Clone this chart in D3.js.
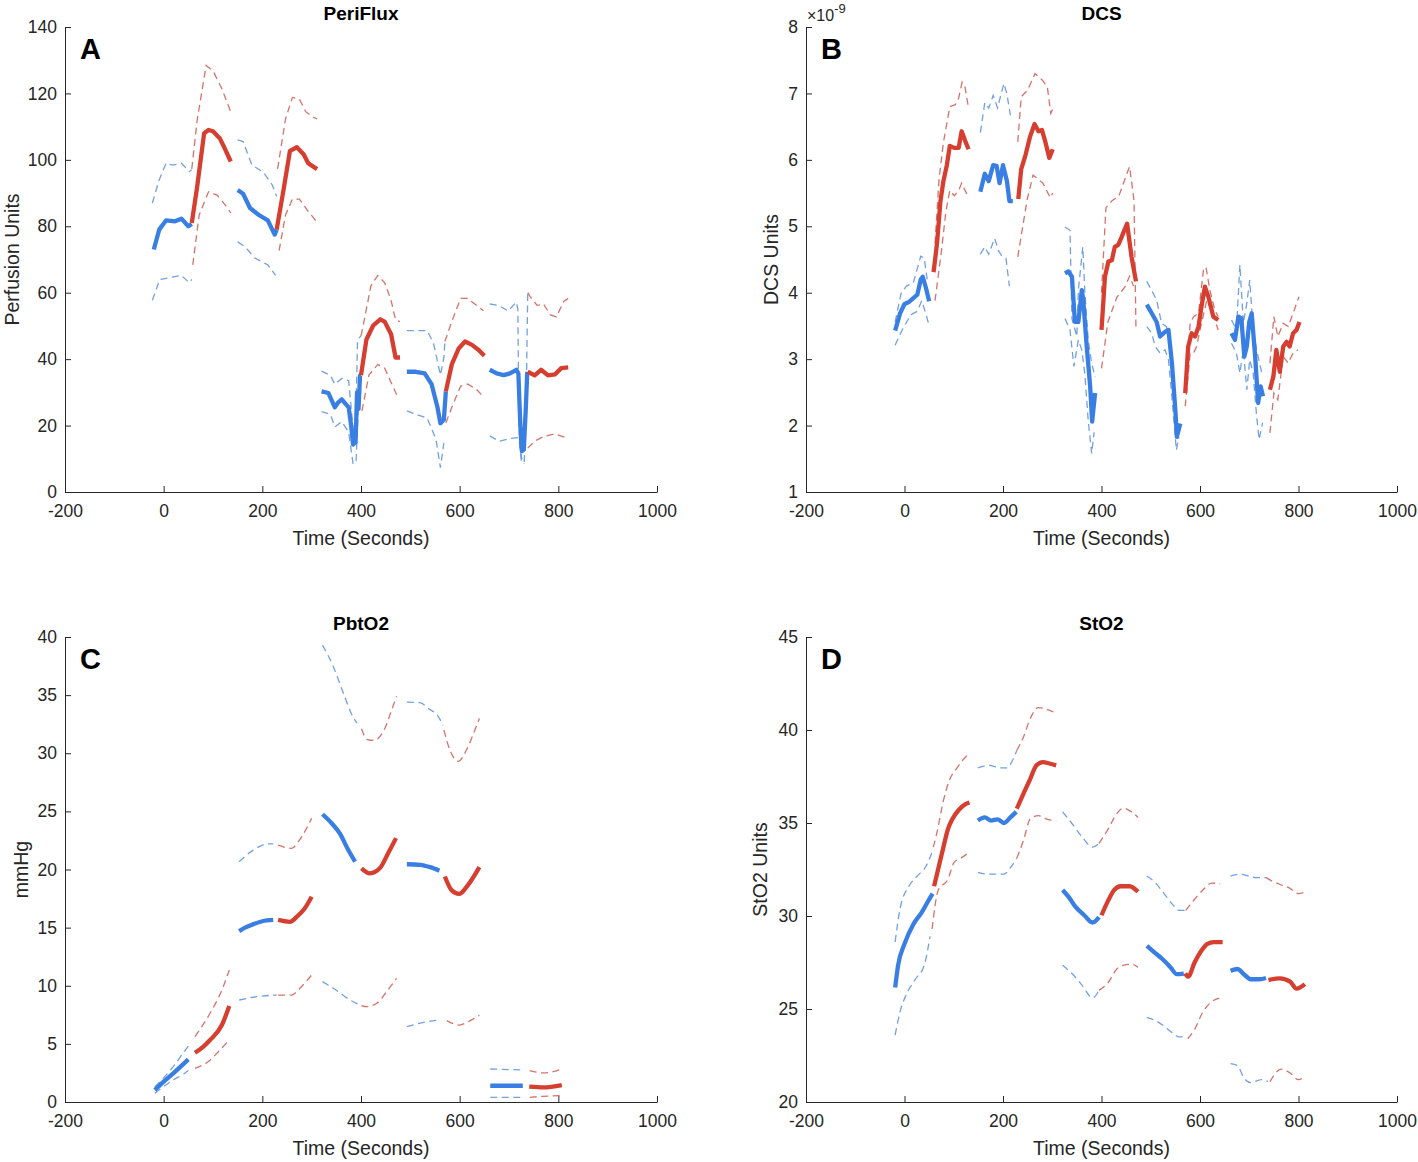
<!DOCTYPE html>
<html><head><meta charset="utf-8">
<script src="https://cdn.jsdelivr.net/npm/d3@7/dist/d3.min.js"></script>
<style>
body{margin:0;background:#fff}
svg text{font-family:"Liberation Sans",Arial,Helvetica,sans-serif}
</style>
</head><body>
<svg id="chart" width="1418" height="1162"></svg>
<script>
// ---------- shared axis data ----------
const xTicks = [-200, 0, 200, 400, 600, 800, 1000];
const periTicks = [0, 20, 40, 60, 80, 100, 120, 140];
const dcsTicks = [1, 2, 3, 4, 5, 6, 7, 8];          // in units of 1e-9
const pbtTicks = [0, 5, 10, 15, 20, 25, 30, 35, 40];
const stoTicks = [20, 25, 30, 35, 40, 45];

// ---------- PeriFlux (segments of [time, value]) ----------
const periBlueMean = [
 [[-20,73],[-9,79],[5,81.8],[23,81.5],[36,82.3],[50,80],[57,80.7]],
 [[150,90.9],[161,89.8],[175,85.5],[193,83.4],[211,81.8],[225,77.5],[229,79]],
 [[320,30.3],[334,29.8],[347,25.5],[354,27],[361,27.9],[375,25.5],[380,20],[384,14.3],[389,15],[392,30],[395,25],[398,35],[400,35]],
 [[493,36.2],[511,36.2],[529,35.7],[543,32.5],[555,25.5],[561,20.7],[568,21.8],[572,30.3]],
 [[661,36.8],[675,35.7],[689,35.2],[702,35.7],[715,36.8],[719,35.7],[723,20],[726,12.3],[730,12.7],[734,25],[737,36.2]]
];
const periRedMean = [
 [[57,81],[68,92],[82,108],[91,109],[100,108.6],[114,106.4],[123,103.7],[136,99.5]],
 [[229,79],[243,91],[256,102.7],[270,103.8],[284,101.6],[293,99],[311,97.2]],
 [[400,35.2],[411,45.9],[425,50.2],[439,52],[448,51.3],[461,47.5],[470,40.5],[479,40.5]],
 [[572,30.3],[584,38.4],[598,43.2],[611,45.3],[625,44.3],[639,42.7],[650,41]],
 [[738,36.2],[752,35.1],[765,36.8],[779,35.1],[793,35.4],[806,37.3],[820,37.5]]
];
const periBlueUpper = [
 [[-23,87],[-9,94],[5,99],[18,98.4],[36,99],[52,96.5],[57,97]],
 [[150,106],[161,105.5],[179,98.4],[202,96.3],[220,92.5],[229,89]],
 [[320,36.4],[338,35.1],[347,32.4],[361,34.2],[375,33.5],[384,19],[389,17.9],[393,45.9],[400,47]],
 [[493,48.6],[511,48.6],[534,48.6],[547,44.8],[561,35.2],[568,40.5],[570,45]],
 [[661,56.6],[680,56.1],[698,54.5],[715,57.2],[718,55],[720,20],[725,9],[731,9],[735,30],[738,60]]
];
const periRedUpper = [
 [[57,97.3],[68,112],[86,128.4],[100,126.8],[118,121.4],[136,114.5]],
 [[231,97.3],[247,112.3],[261,118.8],[275,118.3],[288,114.5],[302,112.9],[311,112.3]],
 [[400,47],[406,51.3],[420,62],[434,65.2],[448,63],[461,57.7],[470,51.8],[479,51.3]],
 [[570,45.3],[584,51.3],[602,58.3],[616,58.3],[634,56.2],[648,54.6]],
 [[738,60],[743,58.8],[757,56.2],[770,56.6],[784,53.3],[796,52.7],[811,57.4],[820,58.3]]
];
const periBlueLower = [
 [[-23,57.7],[-8,64],[14,64.6],[36,65.2],[52,63],[57,64]],
 [[150,75.3],[166,73.7],[184,70.5],[211,68.4],[227,65.2]],
 [[320,24.2],[338,23.4],[347,19.6],[361,21.2],[375,18],[384,8.4],[390,9.4],[395,26.6]],
 [[493,24.4],[511,23.4],[534,22.3],[552,15.9],[561,7.3],[568,14.8]],
 [[661,16.9],[680,15.3],[702,16.1],[720,16.4],[725,10.5],[731,8.4]]
];
const periRedLower = [
 [[59,68.4],[72,83.4],[91,90.4],[109,89.3],[127,86],[136,84]],
 [[234,72.7],[247,83.4],[261,88.2],[275,88.2],[293,84.5],[311,81.2]],
 [[402,24.4],[416,35.2],[434,38.4],[448,37.3],[461,33],[474,28.7]],
 [[572,20.8],[584,25.5],[602,31.9],[616,32.5],[634,30.9],[648,28.7]],
 [[738,13.2],[752,15.3],[770,16.7],[793,17.5],[815,16.4]]
];

// ---------- DCS (values x 1e-9) ----------
const dcsBlueMean = [
 [[-19,3.43],[-9,3.69],[0,3.83],[9,3.86],[18,3.92],[26,3.97],[33,4.2],[37,4.24],[44,4.06],[50,3.87]],
 [[154,5.52],[163,5.79],[171,5.68],[180,5.92],[187,5.91],[193,5.65],[200,5.92],[208,5.68],[213,5.38],[220,5.38]],
 [[326,4.29],[333,4.32],[340,4.24],[346,3.56],[353,3.56],[360,4.04],[363,3.89],[370,3.19],[377,2.59],[381,2.06],[387,2.49]],
 [[492,3.82],[502,3.69],[512,3.56],[519,3.34],[529,3.41],[536,3.44],[543,2.94],[550,2.23],[553,1.83],[560,2.03]],
 [[664,3.39],[671,3.29],[678,3.64],[684,3.61],[690,3.04],[695,3.19],[700,3.56],[705,3.69],[712,3.04],[718,2.34],[723,2.59],[728,2.44]]
];
const dcsRedMean = [
 [[59,4.31],[66,4.74],[73,5.38],[79,5.68],[86,5.92],[92,6.21],[101,6.18],[110,6.18],[116,6.43],[123,6.29],[130,6.16]],
 [[231,5.41],[237,5.86],[246,6.08],[255,6.35],[264,6.54],[272,6.43],[279,6.45],[286,6.27],[294,6.03],[301,6.16]],
 [[400,3.44],[407,4.24],[414,4.47],[421,4.49],[427,4.69],[434,4.72],[441,4.84],[448,4.97],[452,5.04],[461,4.54],[470,4.17]],
 [[570,2.49],[576,3.19],[583,3.39],[590,3.34],[597,3.49],[603,3.79],[610,4.09],[617,3.94],[627,3.64],[637,3.59]],
 [[742,2.54],[749,2.74],[755,3.14],[762,2.81],[769,3.19],[776,3.26],[782,3.19],[789,3.39],[796,3.44],[802,3.56]]
];
const dcsBlueUpper = [
 [[-19,3.56],[-7,3.99],[4,4.1],[18,4.15],[33,4.55],[40,4.52],[46,4.2]],
 [[154,6.41],[163,6.86],[171,6.78],[180,6.97],[189,6.78],[196,6.99],[202,7.15],[208,6.99],[215,6.67]],
 [[326,4.99],[336,4.94],[340,3.61],[350,3.34],[353,4.04],[362,4.69],[366,4.04],[373,3.29],[380,2.94],[387,2.73]],
 [[492,4.17],[505,3.99],[512,3.89],[522,3.54],[532,3.49],[539,3.19],[546,2.54],[553,2.03],[560,1.93]],
 [[664,3.59],[674,3.44],[681,4.42],[688,3.54],[695,3.84],[701,4.19],[708,3.44],[715,3.14],[721,2.94],[727,2.74]]
];
const dcsRedUpper = [
 [[62,4.74],[70,5.7],[79,6.26],[92,6.8],[103,6.83],[110,6.93],[117,7.17],[123,7.09],[130,6.78]],
 [[230,6.27],[237,6.95],[250,7.05],[265,7.3],[280,7.2],[290,7.1],[297,6.7],[303,6.8]],
 [[400,4.0],[409,5.28],[422,5.39],[435,5.45],[453,5.82],[457,5.9],[466,5.39],[470,3.45]],
 [[573,2.74],[580,3.54],[587,3.64],[597,3.69],[607,4.34],[612,4.39],[620,4.04],[630,3.74],[637,3.64]],
 [[742,2.94],[750,3.64],[758,3.34],[769,3.54],[779,3.49],[789,3.69],[801,3.94]]
];
const dcsBlueLower = [
 [[-19,3.21],[-4,3.45],[13,3.67],[26,3.72],[35,3.88],[44,3.67],[50,3.5]],
 [[154,4.58],[163,4.69],[171,4.58],[183,4.82],[191,4.63],[198,4.55],[206,4.52],[213,4.1]],
 [[326,3.61],[336,3.44],[344,2.89],[353,3.29],[360,3.14],[366,2.79],[373,2.08],[380,1.58],[385,1.9]],
 [[492,3.49],[502,3.39],[509,3.19],[519,3.09],[529,3.14],[536,2.99],[543,2.43],[552,1.63],[557,1.83]],
 [[664,3.24],[674,3.09],[681,2.79],[688,3.14],[695,2.54],[701,2.99],[708,2.79],[715,2.14],[720,1.79],[727,2.04]]
];
const dcsRedLower = [
 [[62,3.88],[75,4.63],[84,5.22],[92,5.54],[101,5.46],[110,5.54],[116,5.65],[123,5.54],[130,5.44]],
 [[230,4.54],[249,5.4],[261,5.77],[281,5.65],[296,5.43],[301,5.5]],
 [[400,2.86],[413,3.56],[431,3.93],[448,4.09],[457,4.25],[465,4.1]],
 [[570,2.29],[580,3.09],[587,3.09],[593,3.19],[603,3.54],[614,3.89],[623,3.74],[637,3.44]],
 [[742,1.89],[750,2.49],[758,2.39],[769,3.04],[779,2.94],[789,3.09],[799,3.14]]
];

// ---------- PbtO2 ----------
const pbtBlueMean = [
 [[-18,1.03],[0,1.75],[19.5,2.47],[50,3.67]],
 [[153,14.7],[165,15.0],[182,15.3],[200,15.55],[222,15.66]],
 [[322,24.75],[340,24.0],[357,23.1],[374,21.7],[388,20.67]],
 [[493,20.45],[520,20.4],[540,20.2],[559,19.9]],
 [[662,1.4],[728,1.4]]
];
const pbtRedMean = [
 [[63.5,4.24],[80,4.75],[94,5.33],[118,6.62],[133,8.26]],
 [[232,15.66],[256,15.5],[270,15.94],[285,16.6],[300,17.66]],
 [[401,20.1],[418,19.67],[438,20.1],[455,21.4],[471,22.7]],
 [[570,19.4],[584,18.2],[599,17.9],[614,18.5],[640,20.2]],
 [[741,1.32],[770,1.26],[807,1.46]]
];
const pbtBlueUpper = [
 [[-18,1.3],[19.5,3.04],[46.6,4.62],[50,4.8]],
 [[153,20.67],[181.6,21.67],[212,22.2],[222,22.2]],
 [[322,39.3],[344,37.45],[364,35.2],[384,33.1],[392,32.6]],
 [[493,34.4],[520,34.35],[536,33.87],[559,33.0],[566,32.4]],
 [[662,2.84],[728,2.75]]
];
const pbtRedUpper = [
 [[63.5,5.62],[94,7.63],[118,9.63],[133,11.35]],
 [[232,22.1],[259.5,21.82],[273,22.4],[300,24.4]],
 [[401,32.1],[412,31.2],[425,31.1],[445,31.85],[462,33.7],[472,34.9]],
 [[568,32.0],[580,30.3],[597,29.3],[614,30.3],[628,31.7],[640,33.0]],
 [[742,2.7],[771,2.5],[807,2.84]]
];
const pbtBlueLower = [
 [[-18,0.75],[19.5,1.9],[43,2.47],[50,2.7]],
 [[153,8.77],[188.5,9.06],[229,9.2]],
 [[322,10.35],[344,9.78],[378,8.77],[395,8.4]],
 [[493,6.48],[533,6.9],[560,7.05]],
 [[662,0.4],[728,0.4]]
];
const pbtRedLower = [
 [[63.5,2.9],[94,3.6],[114,4.47],[133,5.33]],
 [[232,9.2],[259.5,9.2],[276,9.78],[300,10.93]],
 [[401,8.3],[411,8.2],[432,8.49],[452,9.49],[472,10.64]],
 [[574,7.0],[599,6.62],[617,6.9],[640,7.45]],
 [[742,0.4],[769,0.49],[807,0.55]]
];

// ---------- StO2 ----------
const stoBlueMean = [
 [[-19,26.15],[-13,27.35],[0,28.5],[18,29.56],[35,30.2],[48,30.8],[57,31.2]],
 [[149,35.13],[163,35.3],[176,35.13],[189,35.2],[202,35.0],[215,35.3],[227,35.6]],
 [[321,31.4],[334,31.0],[347,30.5],[365,30.04],[382,29.65],[395,29.94]],
 [[492,28.4],[505,28.1],[523,27.7],[540,27.25],[553,26.87],[567,26.9]],
 [[662,27.06],[676,27.15],[689,26.87],[703,26.6],[721,26.6],[734,26.67]]
];
const stoRedMean = [
 [[60,31.6],[70,32.7],[79,33.7],[88,34.65],[97,35.2],[110,35.7],[123,36.0],[132,36.1]],
 [[228,35.77],[242,36.6],[255,37.35],[268,38.1],[281,38.27],[294,38.2],[308,38.1]],
 [[400,30.04],[413,30.8],[426,31.4],[439,31.6],[457,31.6],[474,31.3]],
 [[570,26.92],[576,26.74],[589,27.5],[602,28.1],[615,28.5],[628,28.6],[646,28.6]],
 [[739,26.56],[762,26.65],[783,26.47],[796,26.1],[813,26.34]]
];
const stoBlueUpper = [
 [[-19,28.6],[-9,30.4],[9,31.6],[26,32.15],[44,32.7],[57,33.5]],
 [[149,37.96],[172,38.1],[193,37.96],[207,37.96],[220,38.4],[228,38.9]],
 [[321,35.6],[338,35.04],[360,34.27],[382,33.7],[395,33.9]],
 [[492,32.15],[510,31.77],[527,31.2],[545,30.6],[558,30.3],[571,30.3]],
 [[662,32.15],[681,32.25],[698,32.15],[716,32.06],[734,32.06]]
];
const stoRedUpper = [
 [[58.5,33.7],[66,34.5],[79,36.2],[92,37.35],[105,37.9],[119,38.4],[130,38.7]],
 [[228,38.9],[242,39.65],[255,40.6],[272,41.2],[290,41.1],[308,40.9]],
 [[395,33.9],[413,34.65],[431,35.5],[444,35.8],[461,35.6],[474,35.3]],
 [[571,30.3],[589,30.9],[606,31.4],[624,31.77],[641,31.73]],
 [[734,32.06],[747,31.87],[765,31.67],[782,31.5],[800,31.2],[813,31.3]]
];
const stoBlueLower = [
 [[-19,23.6],[-9,24.85],[4,25.8],[22,26.6],[40,27.35],[52,28.9]],
 [[149,32.35],[172,32.25],[202,32.25],[215,32.6],[228,33.1]],
 [[321,27.35],[338,26.96],[360,26.3],[382,25.6],[395,26.0]],
 [[492,24.55],[510,24.37],[527,24.08],[545,23.7],[558,23.5],[571,23.5]],
 [[662,22.06],[676,21.96],[689,21.3],[703,21.04],[725,21.2],[738,21.1]]
];
const stoRedLower = [
 [[56,29.3],[68.6,31.4],[88,31.96],[101,32.9],[114,33.1],[130,33.4]],
 [[228,33.1],[242,34.1],[255,35.2],[272,35.4],[290,35.2],[308,35.13]],
 [[395,26.0],[413,26.4],[431,27.15],[444,27.35],[461,27.4],[474,27.25]],
 [[575,23.4],[589,23.9],[606,24.85],[624,25.4],[641,25.6]],
 [[742,21.1],[765,21.77],[782,21.58],[800,21.2],[813,21.38]]
];

// ---------- drawing ----------
const BLUE = "#397fe3", RED = "#d63e30";
const BLUE_D = "#5b8fdc", RED_D = "#cc5b50";
const svg = d3.select("#chart");
svg.append("rect").attr("width",1418).attr("height",1162).attr("fill","#fff");

const panels = [
 {x0:65,x1:657,y0:27,y1:492,dom:[0,140],ticks:periTicks,title:"PeriFlux",ylab:"Perfusion Units",ylabX:19,letter:"A",curve:d3.curveLinear,
  bm:periBlueMean,rm:periRedMean,bu:periBlueUpper,ru:periRedUpper,bl:periBlueLower,rl:periRedLower},
 {x0:806,x1:1397,y0:27,y1:492,dom:[1,8],ticks:dcsTicks,title:"DCS",ylab:"DCS Units",ylabX:778,letter:"B",curve:d3.curveLinear,exp:true,
  bm:dcsBlueMean,rm:dcsRedMean,bu:dcsBlueUpper,ru:dcsRedUpper,bl:dcsBlueLower,rl:dcsRedLower},
 {x0:65,x1:657,y0:637,y1:1102,dom:[0,40],ticks:pbtTicks,title:"PbtO2",ylab:"mmHg",ylabX:28,letter:"C",curve:d3.curveMonotoneX,
  bm:pbtBlueMean,rm:pbtRedMean,bu:pbtBlueUpper,ru:pbtRedUpper,bl:pbtBlueLower,rl:pbtRedLower},
 {x0:806,x1:1397,y0:637,y1:1102,dom:[20,45],ticks:stoTicks,title:"StO2",ylab:"StO2 Units",ylabX:767,letter:"D",curve:d3.curveMonotoneX,
  bm:stoBlueMean,rm:stoRedMean,bu:stoBlueUpper,ru:stoRedUpper,bl:stoBlueLower,rl:stoRedLower}
];

panels.forEach(p => {
  const x = d3.scaleLinear().domain([-200,1000]).range([p.x0,p.x1]);
  const y = d3.scaleLinear().domain(p.dom).range([p.y1,p.y0]);
  const g = svg.append("g");
  const line = d3.line().x(d=>x(d[0])).y(d=>y(d[1])).curve(p.curve);

  // axes
  const gx = g.append("g").attr("transform",`translate(0,${p.y1})`)
    .call(d3.axisBottom(x).tickValues(xTicks).tickSize(-6).tickSizeOuter(0).tickPadding(13).tickFormat(d=>String(d)));
  const gy = g.append("g").attr("transform",`translate(${p.x0},0)`)
    .call(d3.axisLeft(y).tickValues(p.ticks).tickSize(-6).tickSizeOuter(0).tickPadding(8).tickFormat(d=>String(d)));
  [gx,gy].forEach(a=>{
    a.attr("font-family",null).attr("font-size",null);
    a.selectAll("path,line").attr("stroke","#262626").attr("stroke-width",1);
    a.selectAll("text").attr("fill","#262626").style("font-size","17.5px");
  });

  // dashed bounds
  const dashed = (segs,color) => segs.forEach(s => g.append("path").attr("d",line(s))
      .attr("fill","none").attr("stroke",color).attr("stroke-width",1.3)
      .attr("stroke-dasharray","7,4.5").attr("stroke-opacity",0.85));
  dashed(p.bu,BLUE_D); dashed(p.bl,BLUE_D); dashed(p.ru,RED_D); dashed(p.rl,RED_D);
  // mean lines
  const solid = (segs,color) => segs.forEach(s => g.append("path").attr("d",line(s))
      .attr("fill","none").attr("stroke",color).attr("stroke-width",4.3)
      .attr("stroke-linejoin","round").attr("stroke-linecap","butt"));
  solid(p.bm,BLUE); solid(p.rm,RED);

  // texts
  const cx = (p.x0+p.x1)/2;
  g.append("text").attr("x",cx).attr("y",p.y0-7).attr("text-anchor","middle")
    .style("font-size","19px").style("font-weight","bold").attr("fill","#000").text(p.title);
  g.append("text").attr("x",cx).attr("y",p.y1+53).attr("text-anchor","middle")
    .style("font-size","19.5px").attr("fill","#262626").text("Time (Seconds)");
  g.append("text").attr("transform",`translate(${p.ylabX},${(p.y0+p.y1)/2}) rotate(-90)`)
    .attr("text-anchor","middle").style("font-size","19.5px").attr("fill","#262626").text(p.ylab);
  g.append("text").attr("x",p.x0+15).attr("y",p.y0+32)
    .style("font-size","29px").style("font-weight","bold").attr("fill","#000").text(p.letter);
  if (p.exp) {
    const t = g.append("text").attr("x",p.x0+1).attr("y",p.y0-6).style("font-size","16px").attr("fill","#262626");
    t.append("tspan").text("×10");
    t.append("tspan").attr("dy",-8).style("font-size","13px").text("-9");
  }
});
</script>
</body></html>
